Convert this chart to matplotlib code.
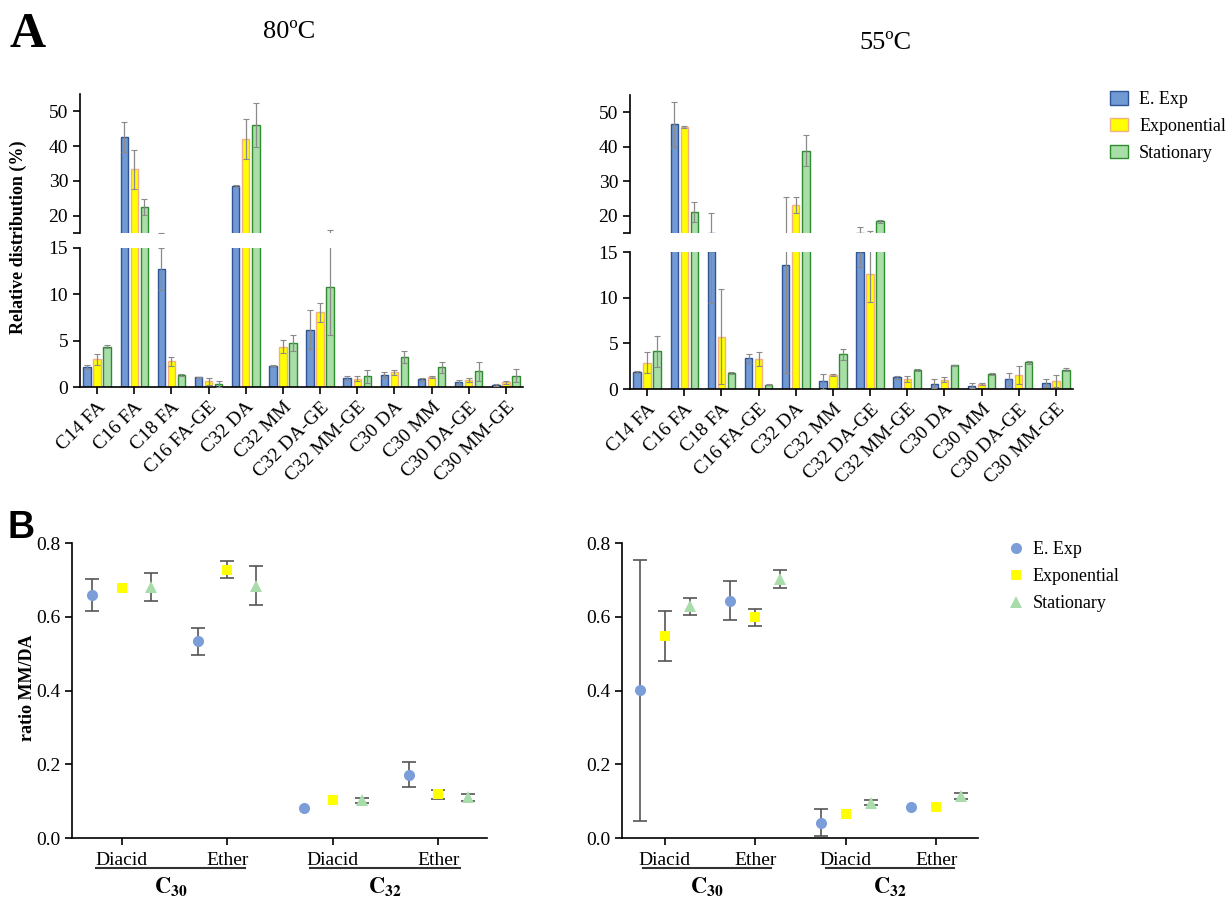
import numpy as np
import matplotlib.pyplot as plt
import matplotlib.transforms as mtransforms
from matplotlib.patches import Patch
from matplotlib.lines import Line2D

plt.rcParams['font.family'] = ['Liberation Serif', 'DejaVu Serif']
plt.rcParams['mathtext.fontset'] = 'stix'

# ---- data: panel A (relative distribution, %) ----
compounds = ["C14 FA", "C16 FA", "C18 FA", "C16 FA-GE", "C32 DA", "C32 MM",
             "C32 DA-GE", "C32 MM-GE", "C30 DA", "C30 MM", "C30 DA-GE", "C30 MM-GE"]
phases = ["E. Exp", "Exponential", "Stationary"]

a80_eexp = [2.15, 42.6, 12.75, 1.07, 28.5, 2.29, 6.16, 0.97, 1.29, 0.82, 0.54, 0.25]
a80_eexp_err = [0.2, 4.4, 2.3, 0.05, 0.3, 0.05, 2.1, 0.25, 0.3, 0.15, 0.25, 0.1]
a80_exp = [3.0, 33.3, 2.76, 0.6, 42.1, 4.37, 8.06, 0.9, 1.58, 1.07, 0.75, 0.5]
a80_exp_err = [0.6, 5.5, 0.45, 0.35, 5.7, 0.65, 1.0, 0.25, 0.25, 0.15, 0.2, 0.15]
a80_stat = [4.37, 22.5, 1.29, 0.32, 46.1, 4.73, 10.74, 1.15, 3.19, 2.15, 1.68, 1.2]
a80_stat_err = [0.2, 2.3, 0.15, 0.3, 6.3, 0.85, 5.1, 0.7, 0.65, 0.6, 1.0, 0.7]

a55_eexp = [1.82, 46.45, 15.1, 3.38, 13.55, 0.84, 15.05, 1.27, 0.58, 0.36, 1.09, 0.65]
a55_eexp_err = [0.1, 6.6, 5.7, 0.5, 11.8, 0.8, 1.65, 0.15, 0.5, 0.3, 0.65, 0.45]
a55_exp = [2.9, 45.7, 5.7, 3.27, 23.15, 1.5, 12.57, 1.09, 1.02, 0.54, 1.53, 0.91]
a55_exp_err = [1.2, 0.3, 5.2, 0.8, 2.3, 0.1, 3.0, 0.3, 0.3, 0.1, 1.0, 0.65]
a55_stat = [4.14, 21.05, 1.74, 0.45, 38.8, 3.8, 18.35, 2.1, 2.58, 1.63, 2.94, 2.1]
a55_stat_err = [1.7, 3.0, 0.1, 0.05, 4.5, 0.6, 0.4, 0.1, 0.1, 0.1, 0.15, 0.15]

# ---- data: panel B (ratio MM/DA) ----
ratio_labels = ["Diacid", "Ether", "Diacid", "Ether"]
b80_eexp = [0.659, 0.533, 0.081, 0.171]
b80_eexp_err = [0.043, 0.037, 0.0, 0.034]
b80_exp = [0.678, 0.728, 0.104, 0.118]
b80_exp_err = [0.0, 0.022, 0.0, 0.013]
b80_stat = [0.681, 0.684, 0.102, 0.110]
b80_stat_err = [0.037, 0.053, 0.006, 0.010]

b55_eexp = [0.401, 0.644, 0.042, 0.085]
b55_eexp_err = [0.354, 0.053, 0.037, 0.0]
b55_exp = [0.548, 0.599, 0.064, 0.084]
b55_exp_err = [0.068, 0.023, 0.0, 0.0]
b55_stat = [0.628, 0.702, 0.096, 0.114]
b55_stat_err = [0.024, 0.025, 0.007, 0.008]

bar_fill = ["#7199D4", "#FFFF00", "#A9DEA9"]
bar_edge = ["#2F5597", "#F4B183", "#2E8B2E"]
mk_color = ["#7B9ED9", "#FFFF00", "#A8DCAA"]
mk_shape = ["o", "s", "^"]
mk_size = [8, 7.5, 8]

W, H = 1229, 897


def box(l, t, r, b):
    return [l / W, 1 - b / H, (r - l) / W, (b - t) / H]


fig = plt.figure(figsize=(12.29, 8.97), dpi=100)


def style_axis(ax):
    for s in ["top", "right"]:
        ax.spines[s].set_visible(False)
    for s in ["left", "bottom"]:
        ax.spines[s].set_linewidth(1.2)
    ax.tick_params(direction="out", length=5, width=1.2, labelsize=14)


def bar_panel(upper_box, lower_box, series, errs):
    ax_up = fig.add_axes(upper_box)
    ax_lo = fig.add_axes(lower_box)
    x = np.arange(len(compounds))
    offs = [-0.27, 0.0, 0.27]
    for ax in (ax_up, ax_lo):
        style_axis(ax)
        for i in range(3):
            ax.bar(x + offs[i], series[i], width=0.2, color=bar_fill[i],
                   edgecolor=bar_edge[i], linewidth=1.0, zorder=2)
            ax.errorbar(x + offs[i], series[i], yerr=errs[i], fmt="none",
                        ecolor="#8a8a8a", elinewidth=0.9, capsize=2,
                        capthick=0.8, zorder=3)
        ax.set_xlim(-0.46, 11.46)
    ax_up.set_ylim(15, 55)
    ax_up.spines["bottom"].set_visible(False)
    ax_up.set_yticks([15, 20, 30, 40, 50])
    ax_up.set_yticklabels(["", "20", "30", "40", "50"])
    ax_up.set_xticks([])
    ax_lo.set_ylim(0, 15)
    ax_lo.set_yticks([0, 5, 10, 15])
    ax_lo.set_xticks(x)
    ax_lo.set_xticklabels(compounds, rotation=45, ha="right",
                          rotation_mode="anchor", fontsize=14)
    return ax_up, ax_lo


bar_panel(box(80, 94, 523, 233), box(80, 248, 523, 387),
          [a80_eexp, a80_exp, a80_stat],
          [a80_eexp_err, a80_exp_err, a80_stat_err])
bar_panel(box(630, 95, 1073, 233), box(630, 252, 1073, 389),
          [a55_eexp, a55_exp, a55_stat],
          [a55_eexp_err, a55_exp_err, a55_stat_err])


def ratio_panel(rect, series, errs):
    ax = fig.add_axes(rect)
    style_axis(ax)
    x = np.arange(len(ratio_labels))
    offs = [-0.276, 0.0, 0.276]
    for i in range(3):
        vals = np.asarray(series[i])
        err = np.asarray(errs[i])
        has = err > 0  # points without a visible SD get no whisker
        ax.errorbar((x + offs[i])[has], vals[has], yerr=err[has], fmt="none",
                    ecolor="#555555", elinewidth=1.2, capsize=5,
                    capthick=1.2, zorder=2)
        ax.plot(x + offs[i], vals, ls="", marker=mk_shape[i],
                color=mk_color[i], ms=mk_size[i], markeredgewidth=0, zorder=3)
    ax.set_xlim(-0.47, 3.46)
    ax.set_ylim(0, 0.8)
    ax.set_yticks([0.0, 0.2, 0.4, 0.6, 0.8])
    ax.set_yticklabels(["0.0", "0.2", "0.4", "0.6", "0.8"])
    ax.set_xticks(x)
    ax.set_xticklabels(ratio_labels, fontsize=14)
    ax.tick_params(axis="x", pad=5)
    trans = mtransforms.blended_transform_factory(ax.transData, ax.transAxes)
    for (xa, xb), lab in [((-0.24, 1.17), r"$\mathbf{C}_{\mathbf{30}}$"),
                          ((1.78, 3.2), r"$\mathbf{C}_{\mathbf{32}}$")]:
        ax.plot([xa, xb], [-0.102, -0.102], color="#333333", lw=1.5,
                transform=trans, clip_on=False)
        ax.text((xa + xb) / 2, -0.165, lab, transform=trans, ha="center",
                va="center", fontsize=16)
    return ax


ratio_panel(box(72, 543, 487, 838),
            [b80_eexp, b80_exp, b80_stat],
            [b80_eexp_err, b80_exp_err, b80_stat_err])
ratio_panel(box(622, 543, 978, 838),
            [b55_eexp, b55_exp, b55_stat],
            [b55_eexp_err, b55_exp_err, b55_stat_err])

# legends
bar_handles = [Patch(facecolor=bar_fill[i], edgecolor=bar_edge[i], linewidth=1.0)
               for i in range(3)]
fig.legend(bar_handles, phases, loc="upper left",
           bbox_to_anchor=(1103 / W, 1 - 84 / H), frameon=False, fontsize=13,
           handlelength=1.0, handleheight=0.75, labelspacing=0.55,
           handletextpad=0.6, borderaxespad=0)
mk_handles = [Line2D([], [], ls="", marker=mk_shape[i], color=mk_color[i],
                     ms=mk_size[i], markeredgewidth=0) for i in range(3)]
fig.legend(mk_handles, phases, loc="upper left",
           bbox_to_anchor=(1002 / W, 1 - 534 / H), frameon=False, fontsize=13,
           handlelength=0.8, labelspacing=0.55, handletextpad=0.5,
           borderaxespad=0)

# titles and labels
fig.text(10 / W, 1 - 47 / H, "A", fontsize=36, fontweight="bold", va="baseline")
fig.text(8 / W, 1 - 538 / H, "B", fontsize=27, fontweight="bold",
         family=["Liberation Sans", "DejaVu Sans"], va="baseline")
fig.text(289 / W, 1 - 32 / H, "80ºC", fontsize=19, ha="center", va="center")
fig.text(885 / W, 1 - 43 / H, "55ºC", fontsize=19, ha="center", va="center")
fig.text(18 / W, 1 - 237 / H, "Relative distribution (%)", fontsize=13,
         fontweight="bold", rotation=90, ha="center", va="center")
fig.text(28 / W, 1 - 688 / H, "ratio MM/DA", fontsize=13, fontweight="bold",
         rotation=90, ha="center", va="center")

fig.savefig("out.png", dpi=100)
